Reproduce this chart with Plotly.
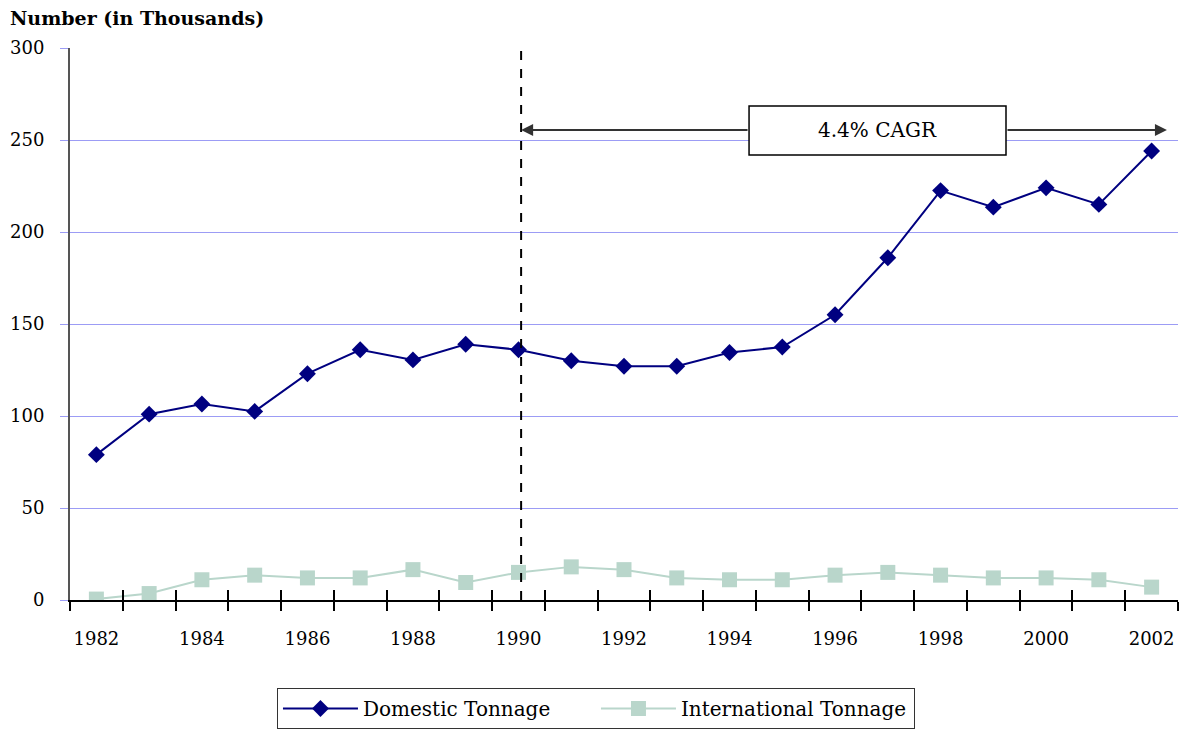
import plotly.graph_objects as go

years = list(range(1982, 2003))
domestic = [79, 101, 106.5, 102.5, 123, 136, 130.5, 139, 136, 130, 127, 127,
            134.5, 137.5, 155, 186, 222.5, 213.5, 224, 215, 244]
international = [0.5, 3.5, 11, 13.5, 12, 12, 16.5, 9.5, 15, 18, 16.5, 12,
                 11, 11, 13.5, 15, 13.5, 12, 12, 11, 7]
label_years = list(range(1982, 2003, 2))
y_ticks = [0, 50, 100, 150, 200, 250, 300]

cagr_text = "4.4% CAGR"
cagr_start = 1990.05
cagr_end = 2002.29
cagr_level = 255.4

FONT = "DejaVu Serif"
GRID = "#9C9CF5"

fig = go.Figure()

fig.add_trace(go.Scatter(
    x=years, y=domestic, name="Domestic Tonnage", mode="lines+markers",
    line=dict(color="#000080", width=2),
    marker=dict(symbol="diamond", size=13, color="#000080"),
))
fig.add_trace(go.Scatter(
    x=years, y=international, name="International Tonnage", mode="lines+markers",
    line=dict(color="#B9D6CB", width=2),
    marker=dict(symbol="square", size=15, color="#B9D6CB"),
))
# invisible trace to drive the overlaid axis carrying the inward tick marks
fig.add_trace(go.Scatter(x=[years[0]], y=[0], xaxis="x2", mode="markers",
                         marker=dict(opacity=0), showlegend=False, hoverinfo="skip"))

x_range = [years[0] - 0.5, years[-1] + 0.5]
boundaries = [y - 0.5 for y in years] + [years[-1] + 0.5]

# dashed divider at the start of the growth period
fig.add_shape(type="line", x0=cagr_start, x1=cagr_start, y0=0, y1=300,
              xref="x", yref="y", line=dict(color="black", width=2, dash="dash"))

# box holding the growth-rate label
box_left, box_right = 1994.37, 1999.24
fig.add_shape(type="rect", x0=box_left, x1=box_right, y0=241.8, y1=268.5,
              xref="x", yref="y", fillcolor="white",
              line=dict(color="black", width=1.5), layer="above")

fig.add_annotation(x=cagr_start, y=cagr_level, ax=box_left, ay=cagr_level,
                   xref="x", yref="y", axref="x", ayref="y", text="",
                   showarrow=True, arrowhead=2, arrowsize=1.2, arrowwidth=2,
                   arrowcolor="#333333", standoff=0)
fig.add_annotation(x=cagr_end, y=cagr_level, ax=box_right, ay=cagr_level,
                   xref="x", yref="y", axref="x", ayref="y", text="",
                   showarrow=True, arrowhead=2, arrowsize=1.2, arrowwidth=2,
                   arrowcolor="#333333", standoff=0)
fig.add_annotation(x=(box_left + box_right) / 2, y=cagr_level, xref="x", yref="y",
                   text=cagr_text, showarrow=False,
                   font=dict(family=FONT, size=20, color="black"))

fig.update_layout(
    width=1180, height=738,
    margin=dict(l=70, r=2, t=48, b=138),
    paper_bgcolor="white", plot_bgcolor="white",
    font=dict(family=FONT, size=18, color="black"),
    title=dict(text="<b>Number (in Thousands)</b>", x=10 / 1180, xanchor="left",
               y=1 - 18 / 738, yanchor="middle",
               font=dict(family=FONT, size=19, color="black")),
    showlegend=True,
    legend=dict(orientation="h", x=0.4747, xanchor="center", y=-0.1594, yanchor="top",
                bordercolor="#333333", borderwidth=1, bgcolor="white",
                font=dict(family=FONT, size=20), itemwidth=75,
                entrywidth=228, entrywidthmode="pixels"),
    xaxis=dict(
        range=x_range, tickmode="array", tickvals=label_years,
        ticktext=[str(y) for y in label_years], ticks="", ticklabelstandoff=22,
        showgrid=False, zeroline=False, showline=True, linecolor="black", linewidth=1.5,
        minor=dict(ticks="outside", tickmode="array", tickvals=boundaries,
                   ticklen=9, tickcolor="black", tickwidth=1.5, showgrid=False),
    ),
    xaxis2=dict(
        range=x_range, overlaying="x", anchor="y", side="bottom",
        tickmode="array", tickvals=boundaries, ticks="inside", ticklen=10,
        tickcolor="black", tickwidth=1.5, showticklabels=False,
        showgrid=False, zeroline=False, showline=False,
    ),
    yaxis=dict(
        range=[0, 300], tickmode="array", tickvals=y_ticks, ticks="outside",
        ticklen=8, tickcolor=GRID, ticklabelstandoff=12,
        showgrid=True, gridcolor=GRID, gridwidth=1,
        zeroline=False, showline=True, linecolor="#555555", linewidth=2,
    ),
)

fig.write_html("out.html")
